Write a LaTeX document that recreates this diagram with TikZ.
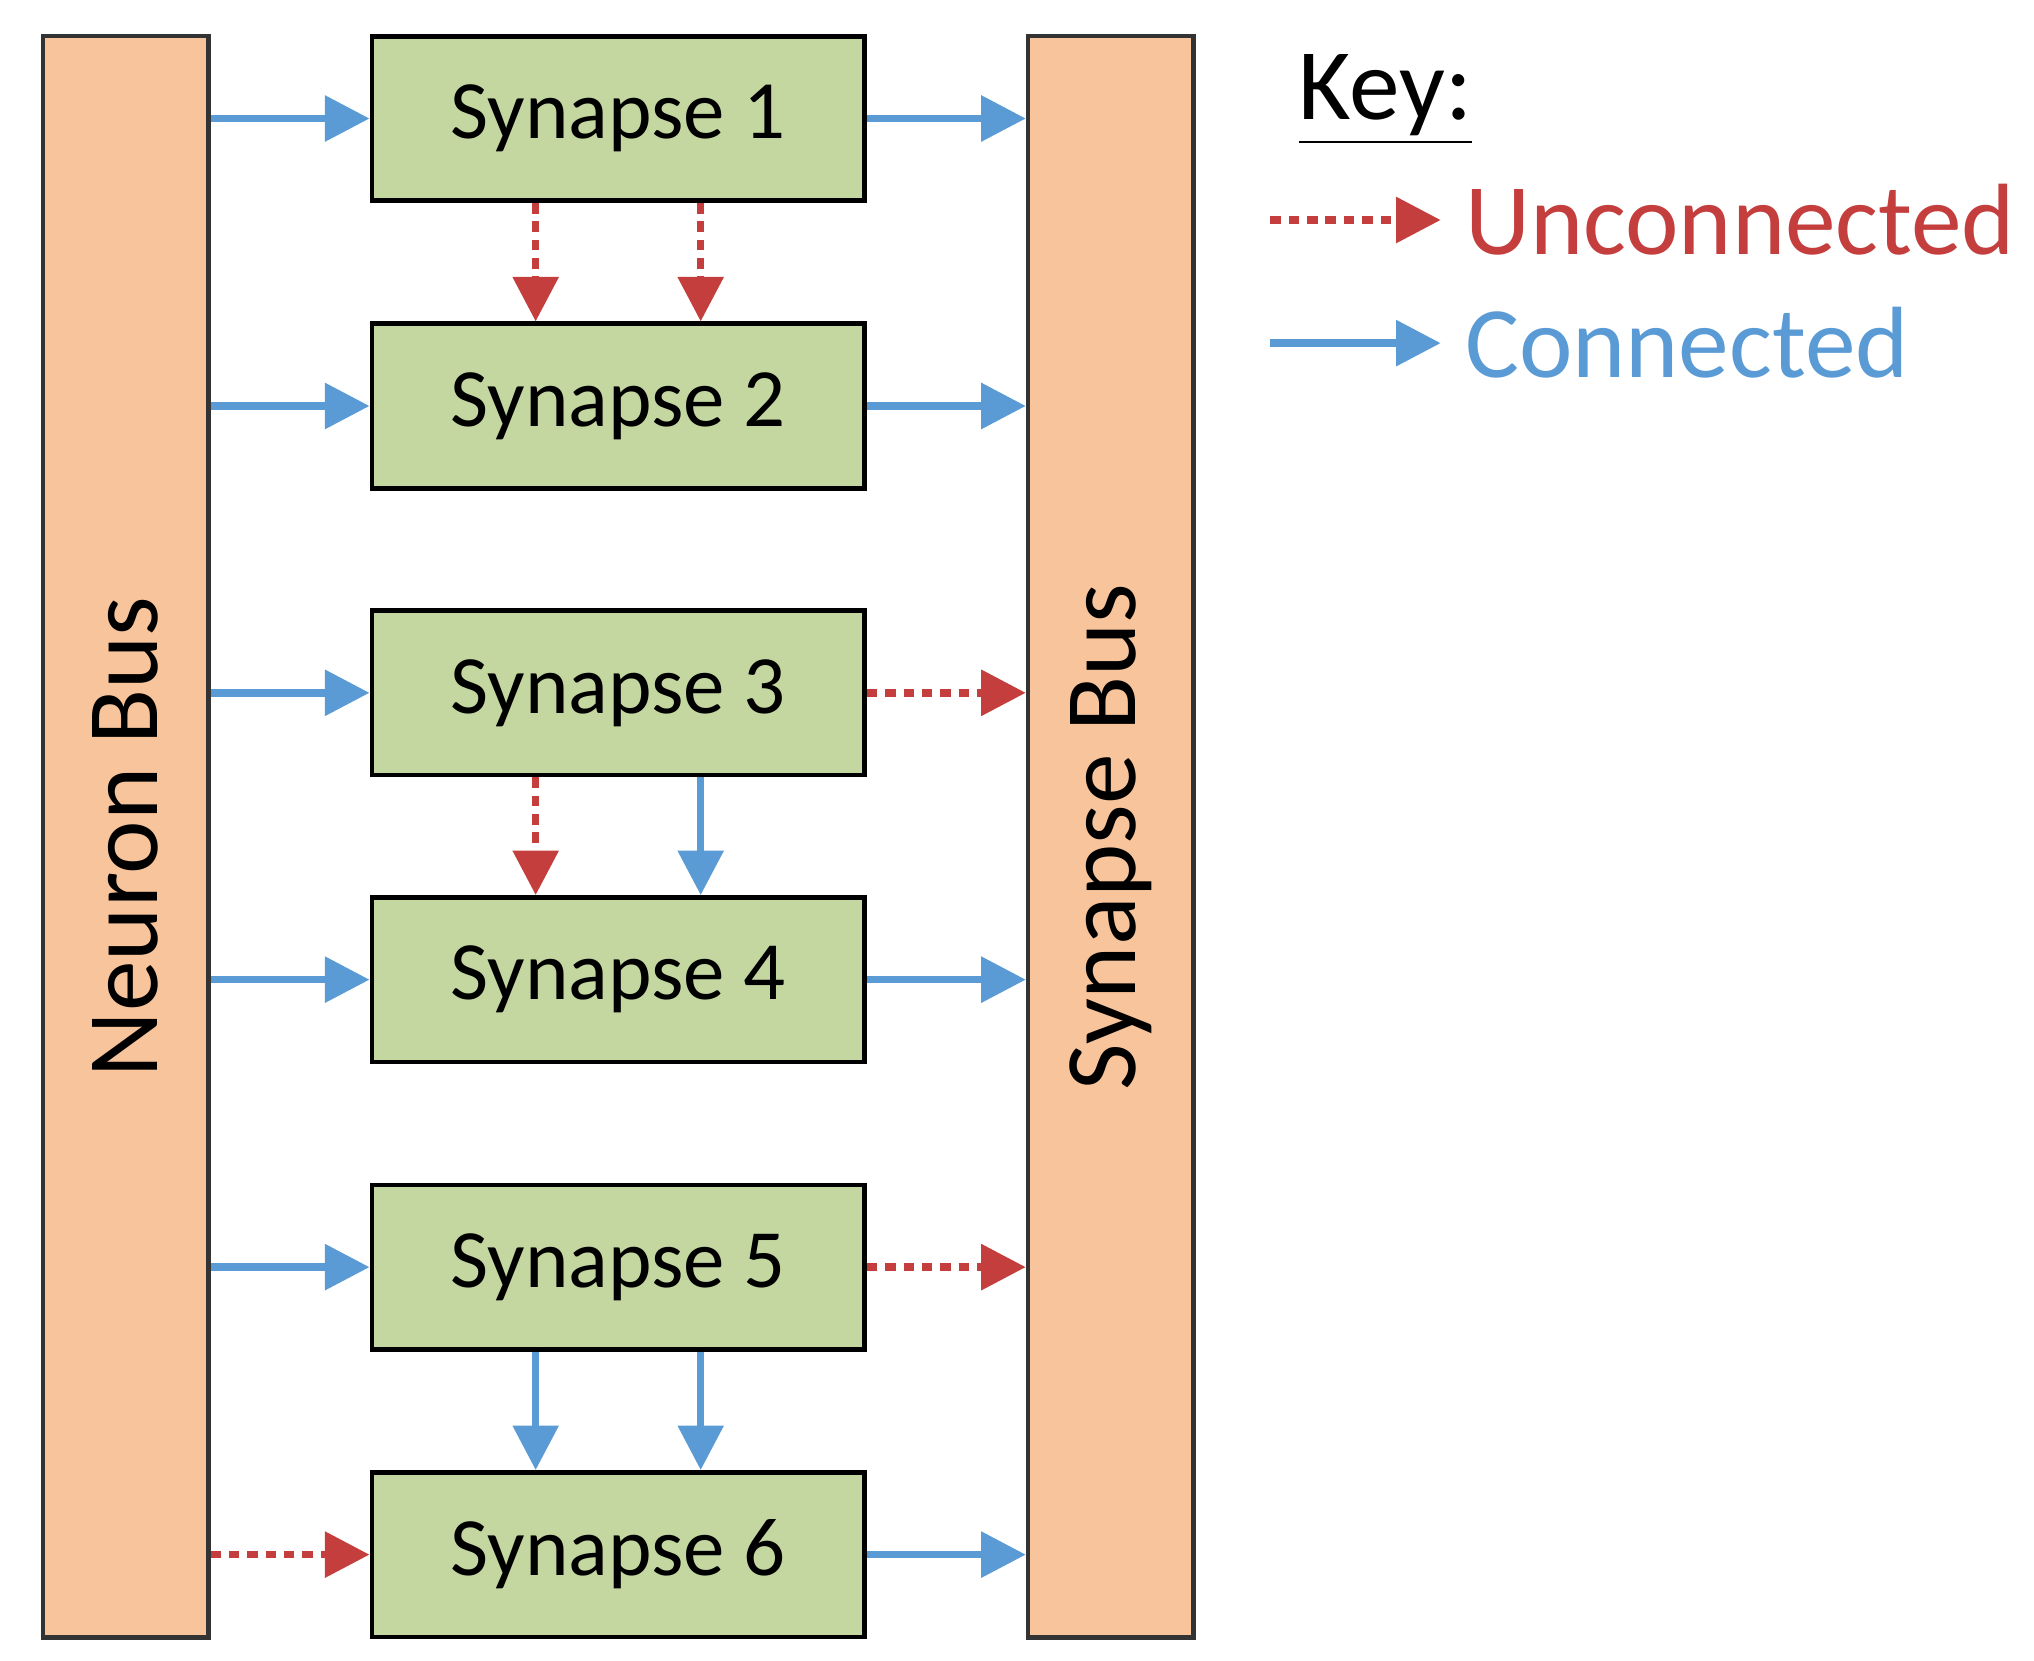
\documentclass[tikz,border=0pt]{standalone}
\usepackage{fontspec}
\setmainfont{Carlito}
\usetikzlibrary{arrows.meta,calc}
\definecolor{busc}{HTML}{F8C49C}
\definecolor{sync}{HTML}{C4D7A0}
\definecolor{bl}{HTML}{5B9BD5}
\definecolor{rd}{HTML}{C43E3E}
\begin{document}
\begin{tikzpicture}[x=0.01cm,y=-0.01cm,
  bus/.style={draw=black!80,line width=1pt,fill=busc,minimum width=1.26cm,minimum height=12.22cm,inner sep=0pt},
  syn/.style={draw=black,line width=1pt,fill=sync,minimum width=3.76cm,minimum height=1.255cm,inner sep=0pt,font=\fontsize{18}{20}\selectfont},
  con/.style={draw=bl,line width=1.6pt,-{Triangle[length=0.34cm,width=0.34cm]}},
  unc/.style={draw=rd,line width=1.6pt,dash pattern=on 0.08cm off 0.06cm,-{Triangle[length=0.34cm,width=0.34cm,fill=rd,sep=0pt]}},
]
\useasboundingbox (0,0) rectangle (1553,1268);
\node[bus] (nb) at (96,639) {};
\node[rotate=90,font=\fontsize{22}{24}\selectfont] (nbl) at (96,639) {Neuron Bus};
\node[bus] (sb) at (848,639) {};
\node[rotate=90,font=\fontsize{22}{24}\selectfont] (sbl) at (848,639) {Synapse Bus};
\foreach \i/\y in {1/90.5,2/310,3/529,4/748,5/967.5,6/1187}
  \node[syn] (s\i) at (472,\y) {Synapse \i};
% left
\foreach \i in {1,2,3,4,5} \draw[con] (s\i.west -| nb.east) -- (s\i.west);
\draw[unc] (s6.west -| nb.east) -- (s6.west);
% right
\foreach \i in {1,2,4,6} \draw[con] (s\i.east) -- (s\i.east -| sb.west);
\foreach \i in {3,5} \draw[unc] (s\i.east) -- (s\i.east -| sb.west);
% vertical
\draw[unc] ($(s1.south)+(-63,0)$) -- ($(s2.north)+(-63,0)$);
\draw[unc] ($(s1.south)+(63,0)$) -- ($(s2.north)+(63,0)$);
\draw[unc] ($(s3.south)+(-63,0)$) -- ($(s4.north)+(-63,0)$);
\draw[con] ($(s3.south)+(63,0)$) -- ($(s4.north)+(63,0)$);
\draw[con] ($(s5.south)+(-63,0)$) -- ($(s6.north)+(-63,0)$);
\draw[con] ($(s5.south)+(63,0)$) -- ($(s6.north)+(63,0)$);
% key
\node[anchor=west,font=\fontsize{22}{24}\selectfont,inner sep=0pt] (key) at (991,76) {\underline{Key:}};
\coordinate (u1) at (970,168); \coordinate (u2) at (1100,168);
\coordinate (c1) at (970,262); \coordinate (c2) at (1100,262);
\draw[unc] (u1) -- (u2);
\draw[con] (c1) -- (c2);
\node[anchor=west,text=rd,font=\fontsize{22}{24}\selectfont,inner sep=0pt] (ut) at (1118,168) {Unconnected};
\node[anchor=west,text=bl,font=\fontsize{22}{24}\selectfont,inner sep=0pt] (ct) at (1118,262) {Connected};
\end{tikzpicture}
\end{document}
